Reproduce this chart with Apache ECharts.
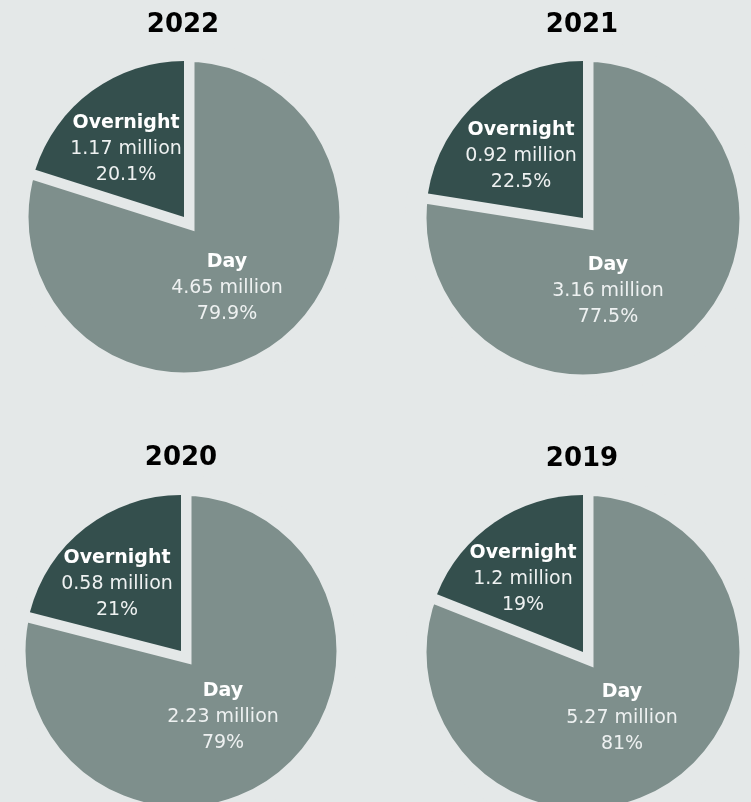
<!DOCTYPE html>
<html>
<head>
    <meta charset="utf-8" />
    <title>Day and overnight visitors</title>
    <script src="https://cdn.jsdelivr.net/npm/echarts@6/dist/echarts.min.js"></script>
    <style>
        html, body { margin: 0; padding: 0; background: #e4e8e8; }
        #chart { width: 751px; height: 802px; }
    </style>
</head>
<body>
<div id="chart"></div>
<script type="text/javascript">
    // 数据
    var years = ['2022', '2021', '2020', '2019'];
    var dayMillion = [4.65, 3.16, 2.23, 5.27];
    var nightMillion = [1.17, 0.92, 0.58, 1.2];
    var dayPct = [79.9, 77.5, 79, 81];
    var nightPct = [20.1, 22.5, 21, 19];

    var bg = '#e4e8e8';
    var dayColor = '#7e8f8c';
    var nightColor = '#344f4d';
    var font = 'DejaVu Sans';

    // 每个饼图的位置 / 半径 / 标签锚点(相对圆心)
    var cells = [
        { c: [184, 217], r: 156, t: [183, 22], night: [-58, -68], day: [43, 71] },
        { c: [583, 218], r: 157, t: [582, 22], night: [-62, -62], day: [25, 73] },
        { c: [181, 651], r: 156, t: [181, 455], night: [-64, -67], day: [42, 66] },
        { c: [583, 652], r: 157, t: [582, 456], night: [-60, -73], day: [39, 66] }
    ];

    var rich = {
        b: { fontFamily: font, fontWeight: 'bold', fontSize: 19, color: '#ffffff', lineHeight: 26 },
        v: { fontFamily: font, fontSize: 19, color: '#eef1f1', lineHeight: 26 }
    };

    function labelText(name, million, pct) {
        return '{b|' + name + '}\n{v|' + million + ' million}\n{v|' + pct + '%}';
    }

    var titles = [];
    var series = [];
    cells.forEach(function (cell, i) {
        titles.push({
            text: years[i],
            left: cell.t[0] - 5,
            top: cell.t[1] - 18,
            textAlign: 'center',
            textStyle: { fontFamily: font, fontWeight: 'bold', fontSize: 26, color: '#000', lineHeight: 32 }
        });
        // Day: a wide background border cuts the gap on the day side only
        series.push({
            type: 'pie',
            silent: true,
            animation: false,
            center: cell.c,
            radius: cell.r + 10,
            startAngle: 90,
            avoidLabelOverlap: false,
            itemStyle: { color: dayColor, borderColor: bg, borderWidth: 21, borderJoin: 'miter', borderMiterLimit: 20 },
            label: { show: true, position: 'inside', align: 'center', verticalAlign: 'middle', rich: rich },
            labelLine: { show: false },
            labelLayout: { x: cell.c[0] + cell.day[0], y: cell.c[1] + cell.day[1] },
            data: [
                { name: 'Day', value: dayPct[i], label: { formatter: labelText('Day', dayMillion[i], dayPct[i]) } },
                { name: 'Overnight', value: nightPct[i], itemStyle: { color: 'rgba(0,0,0,0)', borderWidth: 0 }, label: { show: false } }
            ]
        });
        // Overnight
        series.push({
            type: 'pie',
            silent: true,
            animation: false,
            center: cell.c,
            radius: cell.r,
            startAngle: 90,
            avoidLabelOverlap: false,
            itemStyle: { color: nightColor, borderWidth: 0 },
            label: { show: true, position: 'inside', align: 'center', verticalAlign: 'middle', rich: rich },
            labelLine: { show: false },
            labelLayout: { x: cell.c[0] + cell.night[0], y: cell.c[1] + cell.night[1] },
            data: [
                { name: 'Day', value: dayPct[i], itemStyle: { color: 'rgba(0,0,0,0)' }, label: { show: false } },
                { name: 'Overnight', value: nightPct[i], label: { formatter: labelText('Overnight', nightMillion[i], nightPct[i]) } }
            ]
        });
    });

    var myChart = echarts.init(document.getElementById('chart'));
    myChart.setOption({
        backgroundColor: bg,
        animation: false,
        title: titles,
        tooltip: { show: false },
        series: series
    });
</script>
</body>
</html>
